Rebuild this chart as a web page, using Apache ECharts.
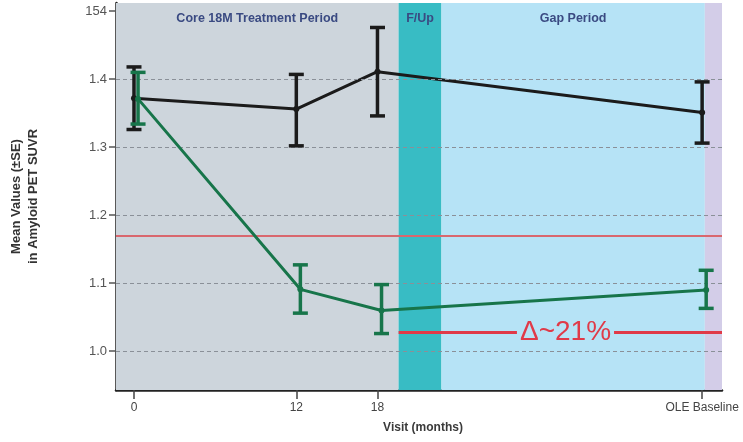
<!DOCTYPE html>
<html>
<head>
<meta charset="utf-8">
<script src="https://cdn.jsdelivr.net/npm/echarts@6/dist/echarts.min.js"></script>
<style>
  html, body { margin: 0; padding: 0; background: #ffffff; }
  #chart { width: 743px; height: 442px; }
</style>
</head>
<body>
<div id="chart"></div>
<script>
// Visit schedule (months) and their axis labels
const visitMonths = [0, 12, 18, 42];
const visitLabels = ['0', '12', '18', 'OLE Baseline'];

// Y-axis tick positions and labels
const yTicks = [1.0, 1.1, 1.2, 1.3, 1.4, 1.5];
const yTickLabels = ['1.0', '1.1', '1.2', '1.3', '1.4', '154'];

// Placebo arm: mean and ±SE bounds
const placeboMean = [1.372, 1.356, 1.411, 1.351];
const placeboLow  = [1.326, 1.302, 1.346, 1.306];
const placeboHigh = [1.418, 1.407, 1.476, 1.396];

// Treated arm: mean and ±SE bounds
const treatedMean = [1.371, 1.091, 1.060, 1.090];
const treatedLow  = [1.334, 1.056, 1.026, 1.063];
const treatedHigh = [1.410, 1.127, 1.098, 1.119];

// Study periods [start, end] in months
const periodNames = ['Core 18M Treatment Period', 'F/Up', 'Gap Period', ''];
const periodStart = [-1.33, 19.56, 22.73, 42.2];
const periodEnd   = [19.56, 22.73, 42.2, 43.47];
const periodColors = ['#cdd5dc', '#38bcc4', '#b6e3f6', '#d3cde8'];

// Reference levels
const thresholdSUVR = 1.172;
const deltaLevel = 1.028;
const deltaLabel = 'Δ~21%';
const deltaLabelAt = 31.9;

const dodge = 0.3; // small horizontal offset for the treated arm

const FONT = 'Liberation Sans, Arial, sans-serif';

function pts(xs, ys, off) { return xs.map((x, i) => [x + off, ys[i]]); }
function errData(xs, lo, hi, off) { return xs.map((x, i) => [x + off, lo[i], hi[i]]); }

function errorBars(color) {
  return function (params, api) {
    const x = api.value(0);
    const lo = api.coord([x, api.value(1)]);
    const hi = api.coord([x, api.value(2)]);
    const w = 7.5;
    const style = { stroke: color, lineWidth: 3.5 };
    return {
      type: 'group',
      children: [
        { type: 'line', shape: { x1: lo[0], y1: lo[1], x2: hi[0], y2: hi[1] }, style },
        { type: 'line', shape: { x1: hi[0] - w, y1: hi[1], x2: hi[0] + w, y2: hi[1] }, style },
        { type: 'line', shape: { x1: lo[0] - w, y1: lo[1], x2: lo[0] + w, y2: lo[1] }, style }
      ]
    };
  };
}

const chart = echarts.init(document.getElementById('chart'), null, { renderer: 'canvas' });

const bandData = periodNames.map((name, i) => [
  { name, xAxis: periodStart[i], itemStyle: { color: periodColors[i] } },
  { xAxis: periodEnd[i] }
]);

chart.setOption({
  animation: false,
  backgroundColor: '#ffffff',
  textStyle: { fontFamily: FONT },
  grid: { left: 115, right: 21, top: 3, bottom: 52 },
  xAxis: {
    type: 'value',
    min: periodStart[0],
    max: periodEnd[periodEnd.length - 1],
    name: 'Visit (months)',
    nameLocation: 'middle',
    nameGap: 32,
    nameTextStyle: { fontFamily: FONT, fontWeight: 'bold', fontSize: 12, color: '#3a3a3a', padding: [0, 0, 0, 8] },
    axisLine: { show: true, onZero: false, lineStyle: { color: '#222', width: 2.5 } },
    axisTick: { show: true, customValues: visitMonths, length: 9, lineStyle: { color: '#444', width: 1.5 } },
    axisLabel: {
      customValues: visitMonths,
      formatter: v => visitLabels[visitMonths.indexOf(v)],
      fontFamily: FONT, fontSize: 12, color: '#444', margin: 12
    },
    splitLine: { show: false }
  },
  yAxis: {
    type: 'value',
    min: 0.943,
    max: 1.512,
    name: 'Mean Values (±SE)\nin Amyloid PET SUVR',
    nameLocation: 'middle',
    nameGap: 74,
    nameRotate: 90,
    nameTextStyle: { fontFamily: FONT, fontWeight: 'bold', fontSize: 13, color: '#333', lineHeight: 17 },
    axisLine: { show: true, onZero: false, lineStyle: { color: '#222', width: 2.5 } },
    axisTick: { show: true, customValues: yTicks, length: 7, lineStyle: { color: '#555', width: 1.5 } },
    axisLabel: {
      customValues: yTicks,
      formatter: v => yTickLabels[Math.round(v * 10) - 10],
      fontFamily: FONT, fontSize: 13, color: '#555', margin: 9
    },
    splitLine: { show: false }
  },
  series: [
    {
      // period bands and dashed gridlines
      type: 'line',
      data: [],
      z: 1,
      silent: true,
      markArea: {
        silent: true,
        label: {
          show: true, position: 'insideTop', distance: 9,
          fontFamily: FONT, fontWeight: 'bold', fontSize: 12.5, color: '#3a4a82'
        },
        data: bandData
      },
      markLine: {
        silent: true,
        symbol: 'none',
        label: { show: false },
        lineStyle: { color: '#8a9098', type: [4, 3], width: 1.2 },
        data: yTicks.slice(0, 5).map(v => ({ yAxis: v }))
      }
    },
    {
      // threshold line
      type: 'line',
      data: [],
      z: 2,
      silent: true,
      markLine: {
        silent: true,
        symbol: 'none',
        label: { show: false },
        lineStyle: { color: '#d9676e', type: 'solid', width: 2 },
        data: [{ yAxis: thresholdSUVR }]
      }
    },
    {
      name: 'Placebo',
      type: 'line',
      z: 4,
      data: pts(visitMonths, placeboMean, 0),
      symbol: 'circle',
      symbolSize: 6,
      itemStyle: { color: '#1b1b1b' },
      lineStyle: { color: '#1b1b1b', width: 3 }
    },
    {
      type: 'custom',
      z: 5,
      renderItem: errorBars('#1b1b1b'),
      data: errData(visitMonths, placeboLow, placeboHigh, 0),
      encode: { x: 0, y: [1, 2] }
    },
    {
      name: 'Treated',
      type: 'line',
      z: 6,
      data: pts(visitMonths, treatedMean, dodge),
      symbol: 'circle',
      symbolSize: 6,
      itemStyle: { color: '#17754a' },
      lineStyle: { color: '#17754a', width: 3 }
    },
    {
      type: 'custom',
      z: 7,
      renderItem: errorBars('#17754a'),
      data: errData(visitMonths, treatedLow, treatedHigh, dodge),
      encode: { x: 0, y: [1, 2] }
    },
    {
      // difference marker with label
      type: 'line',
      data: [],
      z: 8,
      silent: true,
      markLine: {
        silent: true,
        symbol: 'none',
        lineStyle: { color: '#e03a48', type: 'solid', width: 3 },
        label: { show: false },
        data: [[{ coord: [periodStart[1], deltaLevel] }, { coord: [periodEnd[3], deltaLevel] }]]
      },
      markPoint: {
        silent: true,
        symbol: 'rect',
        symbolSize: [1, 1],
        itemStyle: { color: 'transparent' },
        label: {
          show: true,
          position: 'inside',
          formatter: deltaLabel,
          fontFamily: FONT,
          fontSize: 28,
          color: '#e03a48',
          backgroundColor: periodColors[2],
          padding: [2, 3, 0, 3]
        },
        data: [{ coord: [deltaLabelAt, deltaLevel] }]
      }
    }
  ]
});
</script>
</body>
</html>
